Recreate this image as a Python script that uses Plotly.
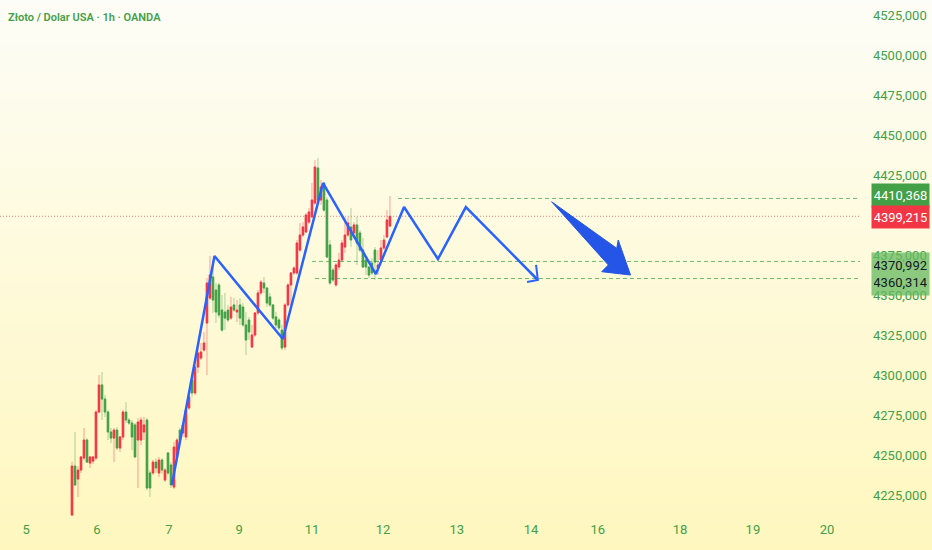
import base64
import struct
import zlib

import plotly.graph_objects as go

# hourly candles (red = up, green = down on this chart)
open_ = [4212.5, 4243.1, 4235.0, 4240.6, 4248.1, 4259.4, 4245.0, 4246.2, 4248.1, 4276.9,
         4293.8, 4285.0, 4276.9, 4264.4, 4260.6, 4265.6, 4254.4, 4261.3, 4276.9, 4271.9,
         4270.0, 4268.8, 4259.4, 4259.4, 4264.4, 4271.9, 4238.8, 4238.8, 4245.6, 4238.8,
         4246.9, 4234.4, 4251.3, 4243.8, 4230.0, 4248.8, 4265.6, 4263.8, 4261.3, 4279.4,
         4296.9, 4288.8, 4305.0, 4310.6, 4315.6, 4332.5, 4348.1, 4361.3, 4353.1, 4356.3,
         4340.6, 4339.4, 4340.6, 4335.6, 4343.8, 4339.4, 4343.8, 4342.5, 4331.3, 4334.4,
         4317.5, 4325.0, 4338.8, 4351.3, 4357.5, 4354.4, 4348.8, 4343.8, 4336.3, 4334.4,
         4328.1, 4317.5, 4343.8, 4356.3, 4363.8, 4363.8, 4378.1, 4387.5, 4389.4, 4395.6,
         4398.8, 4407.5, 4429.4, 4409.4, 4420.0, 4409.4, 4381.3, 4365.6, 4356.3, 4367.5,
         4371.9, 4380.0, 4387.5, 4392.5, 4388.8, 4393.8, 4388.8, 4378.1, 4371.9, 4367.5,
         4370.0, 4378.1, 4366.9, 4371.9, 4379.4, 4386.3, 4393.1]
high = [4245.8, 4264.4, 4243.1, 4249.4, 4266.9, 4260.6, 4249.4, 4249.4, 4278.1, 4300.0,
        4301.9, 4287.5, 4278.1, 4266.9, 4266.9, 4267.5, 4261.9, 4278.1, 4283.1, 4273.1,
        4271.9, 4270.0, 4273.1, 4273.8, 4273.8, 4273.1, 4240.6, 4246.9, 4248.1, 4248.8,
        4248.1, 4241.9, 4251.9, 4245.6, 4258.1, 4260.6, 4266.9, 4270.0, 4279.4, 4288.1,
        4298.1, 4306.3, 4316.9, 4320.0, 4326.9, 4360.6, 4374.4, 4371.9, 4357.5, 4357.5,
        4350.0, 4351.3, 4343.8, 4348.8, 4348.1, 4346.9, 4348.1, 4345.0, 4339.4, 4336.3,
        4331.3, 4339.4, 4353.1, 4359.4, 4361.3, 4355.0, 4351.3, 4344.4, 4339.4, 4335.6,
        4331.3, 4345.0, 4357.5, 4364.4, 4368.1, 4384.4, 4395.0, 4395.6, 4401.3, 4404.4,
        4420.0, 4434.4, 4435.6, 4421.9, 4420.6, 4411.3, 4384.4, 4366.9, 4370.0, 4376.3,
        4384.4, 4398.8, 4398.8, 4404.4, 4395.6, 4398.8, 4390.6, 4385.6, 4372.5, 4368.1,
        4373.1, 4380.0, 4378.1, 4384.4, 4387.5, 4403.1, 4411.9]
low = [4211.9, 4230.6, 4223.8, 4238.8, 4246.9, 4245.0, 4241.9, 4244.4, 4246.9, 4276.3,
       4271.9, 4273.8, 4259.4, 4257.5, 4245.6, 4253.1, 4251.9, 4259.4, 4270.0, 4268.8,
       4253.1, 4248.1, 4229.4, 4256.3, 4259.4, 4228.1, 4223.8, 4237.5, 4238.8, 4236.3,
       4238.1, 4233.1, 4237.5, 4229.4, 4228.8, 4245.6, 4256.3, 4261.3, 4259.4, 4278.1,
       4286.3, 4287.5, 4301.3, 4309.4, 4314.4, 4300.0, 4346.9, 4338.8, 4332.5, 4335.6,
       4326.9, 4328.1, 4333.1, 4334.4, 4339.4, 4333.1, 4331.3, 4330.0, 4312.5, 4321.9,
       4316.9, 4323.8, 4337.5, 4350.0, 4351.3, 4342.5, 4342.5, 4334.4, 4329.4, 4328.1,
       4315.6, 4315.6, 4342.5, 4342.5, 4362.5, 4362.5, 4376.9, 4386.3, 4388.8, 4394.4,
       4398.1, 4406.3, 4406.3, 4406.3, 4401.9, 4373.1, 4356.3, 4358.1, 4355.0, 4365.6,
       4370.6, 4376.3, 4386.3, 4380.0, 4385.6, 4368.8, 4376.9, 4366.9, 4362.5, 4360.6,
       4362.5, 4359.4, 4362.5, 4370.0, 4378.1, 4385.6, 4392.5]
close = [4243.1, 4231.3, 4240.6, 4248.8, 4259.4, 4245.6, 4248.8, 4248.8, 4276.9, 4293.8,
         4285.0, 4276.9, 4264.4, 4260.6, 4265.6, 4254.4, 4261.3, 4276.9, 4271.9, 4270.0,
         4261.3, 4248.8, 4270.6, 4271.9, 4268.8, 4229.4, 4229.4, 4245.6, 4241.9, 4246.9,
         4240.6, 4240.6, 4238.8, 4231.3, 4255.0, 4259.4, 4259.4, 4268.8, 4278.1, 4286.3,
         4288.8, 4305.0, 4313.8, 4314.4, 4320.0, 4357.5, 4362.5, 4346.9, 4339.4, 4337.5,
         4328.1, 4335.6, 4334.4, 4342.5, 4340.6, 4340.6, 4335.6, 4331.3, 4321.9, 4326.9,
         4325.0, 4338.8, 4351.3, 4358.1, 4354.4, 4345.0, 4343.8, 4335.6, 4331.3, 4329.4,
         4316.9, 4343.8, 4356.3, 4363.8, 4366.9, 4382.5, 4387.5, 4392.5, 4400.0, 4401.9,
         4409.4, 4430.0, 4409.4, 4417.5, 4403.1, 4373.8, 4357.5, 4359.4, 4368.8, 4371.9,
         4382.5, 4387.5, 4395.0, 4384.4, 4393.8, 4382.5, 4378.1, 4367.5, 4367.5, 4362.5,
         4363.8, 4370.6, 4368.8, 4379.4, 4384.4, 4396.9, 4399.2]
bar_idx = list(range(15, 15 + len(close)))

# day labels on the time axis (bar index where each label sits)
day_labels = ["5", "6", "7", "9", "11", "12", "13", "14", "16", "18", "19", "20"]
day_pos = [-0.3, 23.3, 47.3, 70.7, 95.0, 118.7, 143.3, 168.0, 190.3, 217.7, 242.0, 266.7]

price_ticks = [4225, 4250, 4275, 4300, 4325, 4350, 4375, 4400, 4425, 4450, 4475, 4500, 4525]

# drawn zigzag projection
path_x = [48.3, 62.5, 85.3, 98.7, 116.3, 125.7, 137.0, 146.3, 170.3]
path_y = [4231.3, 4374.4, 4322.5, 4420.0, 4363.1, 4405.0, 4372.5, 4405.0, 4359.4]
head_x = [169.7, 170.3, 166.7]
head_y = [4368.8, 4359.4, 4358.1]

# big arrow
arrow_x = [174.9, 196.6, 197.1, 201.2, 191.6, 193.8, 174.9]
arrow_y = [4408.3, 4379.2, 4384.4, 4362.5, 4364.6, 4368.8, 4408.3]

# horizontal levels
level_vals = [4410.368, 4370.992, 4360.314]
level_start = [123.7, 95.0, 96.0]
last_price = 4399.215

x_min, x_max = -9, 277.7
RED = "#f23645"
GREEN = "#43a047"
BLUE = "#2962ff"


def gradient_png(height, top, bottom):
    rows = b""
    for y in range(height):
        t = y / (height - 1)
        rgb = bytes(round(a + (b - a) * t) for a, b in zip(top, bottom))
        rows += b"\x00" + rgb * 2

    def chunk(tag, data):
        return (struct.pack(">I", len(data)) + tag + data
                + struct.pack(">I", zlib.crc32(tag + data) & 0xFFFFFFFF))

    png = (b"\x89PNG\r\n\x1a\n"
           + chunk(b"IHDR", struct.pack(">IIBBBBB", 2, height, 8, 2, 0, 0, 0))
           + chunk(b"IDAT", zlib.compress(rows))
           + chunk(b"IEND", b""))
    return "data:image/png;base64," + base64.b64encode(png).decode()


fig = go.Figure()

# wicks (light) then bodies (solid)
fig.add_trace(go.Candlestick(
    x=bar_idx, open=open_, high=high, low=low, close=close,
    increasing=dict(line=dict(color="rgba(242,54,69,0.45)", width=1),
                    fillcolor="rgba(242,54,69,0.45)"),
    decreasing=dict(line=dict(color="rgba(67,160,71,0.45)", width=1),
                    fillcolor="rgba(67,160,71,0.45)"),
    hoverinfo="skip", showlegend=False,
))
body_hi = [max(o, c) for o, c in zip(open_, close)]
body_lo = [min(o, c) for o, c in zip(open_, close)]
fig.add_trace(go.Candlestick(
    x=bar_idx, open=open_, high=body_hi, low=body_lo, close=close,
    increasing=dict(line=dict(color=RED, width=1), fillcolor=RED),
    decreasing=dict(line=dict(color=GREEN, width=1), fillcolor=GREEN),
    showlegend=False,
))

# last price line
fig.add_trace(go.Scatter(
    x=[x_min, x_max], y=[last_price, last_price], mode="lines",
    line=dict(color="rgba(242,54,69,0.6)", width=1, dash="1px,2px"),
    hoverinfo="skip", showlegend=False,
))
for v, s in zip(level_vals, level_start):
    fig.add_trace(go.Scatter(
        x=[s, x_max], y=[v, v], mode="lines",
        line=dict(color="rgba(67,160,71,0.75)", width=1, dash="4px,3px"),
        hoverinfo="skip", showlegend=False,
    ))

fig.add_trace(go.Scatter(
    x=path_x, y=path_y, mode="lines",
    line=dict(color=BLUE, width=2.5), showlegend=False,
))
fig.add_trace(go.Scatter(
    x=head_x, y=head_y, mode="lines",
    line=dict(color=BLUE, width=2), showlegend=False,
))
fig.add_trace(go.Scatter(
    x=arrow_x, y=arrow_y, mode="lines", fill="toself",
    fillcolor="#2455e6", line=dict(color="#2455e6", width=1), showlegend=False,
))

fig.update_layout(
    width=932, height=550,
    margin=dict(l=0, r=72, t=0, b=30),
    paper_bgcolor="#fefbe0",
    plot_bgcolor="rgba(0,0,0,0)",
    showlegend=False,
    font=dict(family="Roboto", size=13, color=GREEN),
    images=[dict(
        source=gradient_png(550, (253, 253, 247), (255, 247, 190)),
        xref="paper", yref="paper", x=0, y=1,
        sizex=932 / 860, sizey=550 / 520,
        xanchor="left", yanchor="top", sizing="stretch", layer="below",
    )],
    xaxis=dict(
        range=[x_min, x_max], rangeslider=dict(visible=False),
        tickvals=day_pos, ticktext=day_labels,
        showgrid=False, zeroline=False, showline=False, ticks="",
        tickfont=dict(size=13, color=GREEN),
    ),
    yaxis=dict(
        range=[4209.4, 4534.4], side="right",
        tickvals=price_ticks, ticktext=[f"{v},000" for v in price_ticks],
        showgrid=False, zeroline=False, showline=False, ticks="",
        ticklabelstandoff=12,
        tickfont=dict(size=13, color=GREEN),
    ),
    annotations=[
        dict(text="Złoto / Dolar USA · 1h · OANDA", xref="paper", yref="paper",
             x=0, y=1, xanchor="left", yanchor="top", xshift=6, yshift=-9,
             showarrow=False,
             font=dict(family="Roboto", size=11, color=GREEN, weight=600)),
        dict(text="4410,368", xref="paper", yref="y", x=1, y=level_vals[0],
             xanchor="left", xshift=11, yshift=3, showarrow=False,
             bgcolor=GREEN, width=53, height=19, borderpad=2,
             font=dict(size=13, color="white")),
        dict(text="4399,215", xref="paper", yref="y", x=1, y=last_price,
             xanchor="left", xshift=11, yshift=-1, showarrow=False,
             bgcolor=RED, width=53, height=18, borderpad=2,
             font=dict(size=13, color="white")),
        dict(text="4370,992<br>4360,314", xref="paper", yref="y", x=1,
             y=(level_vals[1] + level_vals[2]) / 2,
             xanchor="left", xshift=11, yshift=-4, showarrow=False,
             bgcolor="rgba(100,185,95,0.75)", width=53, height=38, borderpad=2,
             font=dict(size=13, color="#131722")),
    ],
)

# drop the page margin so the figure fills the window exactly
fig.write_html("out.html", config={"displayModeBar": False},
               post_script="document.body.style.margin='0';")
